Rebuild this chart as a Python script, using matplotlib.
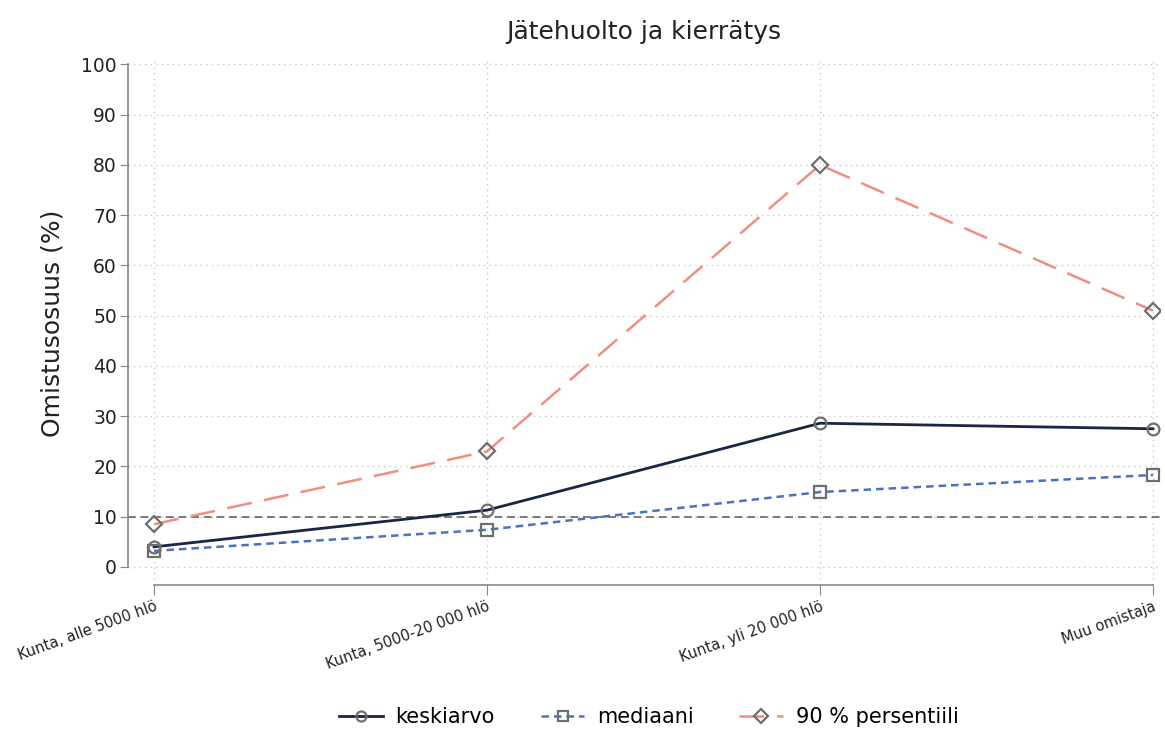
import matplotlib
matplotlib.use("Agg")
from matplotlib import pyplot as plt
import numpy as np

plt.rcParams['font.family'] = ['DejaVu Sans']

# data
categories = ['Kunta, alle 5000 hlö', 'Kunta, 5000-20 000 hlö',
              'Kunta, yli 20 000 hlö', 'Muu omistaja']
keskiarvo = [4.0, 11.3, 28.6, 27.5]
mediaani = [3.2, 7.4, 14.9, 18.3]
persentiili90 = [8.5, 23.0, 80.0, 51.0]
raja = 10
yticks = list(range(0, 101, 10))

x = np.arange(len(categories))

fig = plt.figure(figsize=(11.65, 7.37), dpi=100)
ax = fig.add_axes([0.1099, 0.2062, 0.8858, 0.7104])

mk = dict(markerfacecolor='none', markeredgecolor='#6e6e6e', markeredgewidth=1.6)
ax.plot(x, keskiarvo, color='#1b2545', lw=2, marker='o', ms=8.5, label='keskiarvo', zorder=4, **mk)
ax.plot(x, mediaani, color='#4a72c0', lw=1.8, ls=(0, (3, 2)), marker='s', ms=8, label='mediaani', zorder=4, **mk)
ax.plot(x, persentiili90, color='#f28e7f', lw=1.8, ls=(0, (10, 5)), marker='D', ms=8, label='90 % persentiili', zorder=4, **mk)

ax.axhline(raja, color='#7a7a7a', lw=1.4, ls=(0, (4, 2.5)), zorder=3)

ax.set_xlim(-0.078, 3.021)
ax.set_ylim(-3.6, 100.6)
ax.set_yticks(yticks)
ax.set_xticks(x)
ax.set_xticklabels(categories, rotation=20, ha='right', rotation_mode='anchor', fontsize=10.5)
ax.tick_params(axis='y', labelsize=13.5, length=6, color='#888888', pad=2, labelcolor='#222222')
ax.tick_params(axis='x', length=7, color='#888888', pad=3, labelcolor='#222222')

ax.grid(True, ls=(0, (1, 3)), color='#c8c8c8', lw=1)
ax.set_axisbelow(True)

for s in ['top', 'right']:
    ax.spines[s].set_visible(False)
ax.spines['left'].set_bounds(0, 100)
ax.spines['bottom'].set_bounds(0, 3)
ax.spines['left'].set_color('#888888')
ax.spines['bottom'].set_color('#888888')
ax.spines['left'].set_linewidth(1.2)
ax.spines['bottom'].set_linewidth(1.2)

ax.set_title('Jätehuolto ja kierrätys', fontsize=18, color='#222222', pad=16)
ax.set_ylabel('Omistusosuus (%)', fontsize=18, color='#222222', labelpad=12)

fig.legend(loc='lower center', bbox_to_anchor=(0.557, -0.012), ncol=3, frameon=False,
           fontsize=15, handlelength=2.1, handletextpad=0.6, columnspacing=2.2, markerscale=0.85)

plt.savefig('out.png', dpi=100)
